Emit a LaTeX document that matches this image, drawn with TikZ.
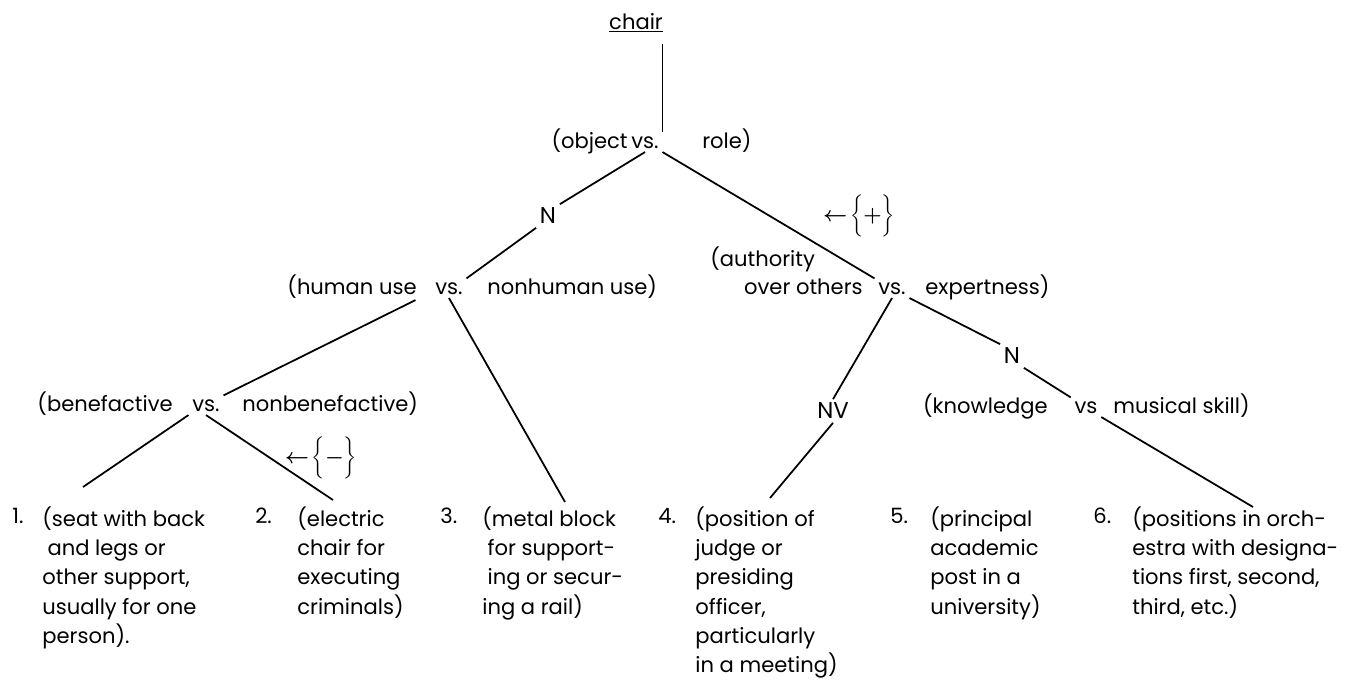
\documentclass[tikz,border=0pt]{standalone}
\usepackage{fontspec}
\setmainfont{Poppins}
\begin{document}
\begin{tikzpicture}[x=0.02cm, y=-0.02cm,
    font=\fontsize{12}{16.7}\selectfont,
    word/.style={inner sep=0pt},
    vsword/.style={inner sep=2pt, anchor=base},
    letter/.style={inner sep=2pt, font=\fontsize{13}{16}\selectfont},
    sign/.style={inner sep=0pt, font=\fontsize{13}{18}\selectfont\boldmath},
    item/.style={inner sep=0pt, anchor=north west, align=left},
    num/.style={inner sep=0pt, anchor=base west},
    link/.style={line width=1pt}]
    \useasboundingbox (0,0) rectangle (1358,680);

    % Root and first split
    \node[inner sep=6pt, anchor=base] (chair) at (636,29) {\underline{chair}};
    \node[word, anchor=base east] (obj) at (628,148) {(object};
    \node[vsword] (objvs) at (645,148) {vs.};
    \node[word, anchor=base west] (role) at (702,148) {role)};

    % Object branch
    \node[letter] (nL) at (548,216) {N};
    \node[word, anchor=base east] (human) at (417,294) {(human use};
    \node[vsword] (humvs) at (449,294) {vs.};
    \node[word, anchor=base west] (nonhum) at (487,294) {nonhuman use)};
    \node[word, anchor=base east] (benef) at (173,411) {(benefactive};
    \node[vsword] (benvs) at (206,411) {vs.};
    \node[word, anchor=base west] (nonben) at (242,411) {nonbenefactive)};
    \node[sign] (minus) at (321,458) {$\leftarrow\!\biggl\{-\biggr\}$};

    % Role branch
    \node[sign] (plus) at (859,216) {$\leftarrow\!\biggl\{+\biggr\}$};
    \node[word, anchor=base west] (auth) at (710,266) {(authority};
    \node[word, anchor=base east] (over) at (863,294) {over others};
    \node[vsword] (authvs) at (892,294) {vs.};
    \node[word, anchor=base west] (expert) at (925,294) {expertness)};
    \node[letter] (NV) at (833,411) {NV};
    \node[letter] (nR) at (1012,356) {N};
    \node[word, anchor=base east] (know) at (1048,413) {(knowledge};
    \node[vsword] (knowvs) at (1086,413) {vs};
    \node[word, anchor=base west] (music) at (1113,413) {musical skill)};

    % Senses
    \foreach \n/\x in {1/12, 2/255, 3/440, 4/658, 5/890, 6/1093}
        \node[num] (n\n) at (\x,523) {\n.};
    \node[item] (it1) at (42,506) {(seat with back\\\hspace*{3pt}and legs or\\other support,\\usually for one\\person).};
    \node[item] (it2) at (297,506) {(electric\\chair for\\executing\\criminals)};
    \node[item] (it3) at (482,506) {(metal block\\\hspace*{3pt}for support-\\\hspace*{3pt}ing or secur-\\ing a rail)};
    \node[item] (it4) at (695,506) {(position of\\judge or\\presiding\\officer,\\particularly\\in a meeting)};
    \node[item] (it5) at (930,506) {(principal\\academic\\post in a\\university)};
    \node[item] (it6) at (1132,506) {(positions in orch-\\estra with designa-\\tions first, second,\\third, etc.)};

    % Branches
    \draw[link] (objvs.east |- chair.south) -- (objvs.north east);
    \draw[link] (objvs.south) -- (nL.north east);
    \draw[link] (objvs.south east) -- (authvs.north west);
    \draw[link] (nL.south west) -- (humvs.north east);
    \draw[link] ([shift={(-16,2)}]humvs.south west) -- (benvs.north east);
    \draw[link] (humvs.south) -- ([shift={(83,-4)}]it3.north west);
    \draw[link] (benvs.south west) -- ([shift={(41,-19)}]it1.north west);
    \draw[link] (benvs.south) -- ([shift={(36,-6)}]it2.north west);
    \draw[link] (authvs.south) -- (NV.north);
    \draw[link] (NV.south) -- ([shift={(75,-8)}]it4.north west);
    \draw[link] (authvs.south east) -- (nR.north west);
    \draw[link] (nR.south east) -- (knowvs.north west);
    \draw[link] (knowvs.south east) -- ([shift={(121,1)}]it6.north west);
\end{tikzpicture}
\end{document}
